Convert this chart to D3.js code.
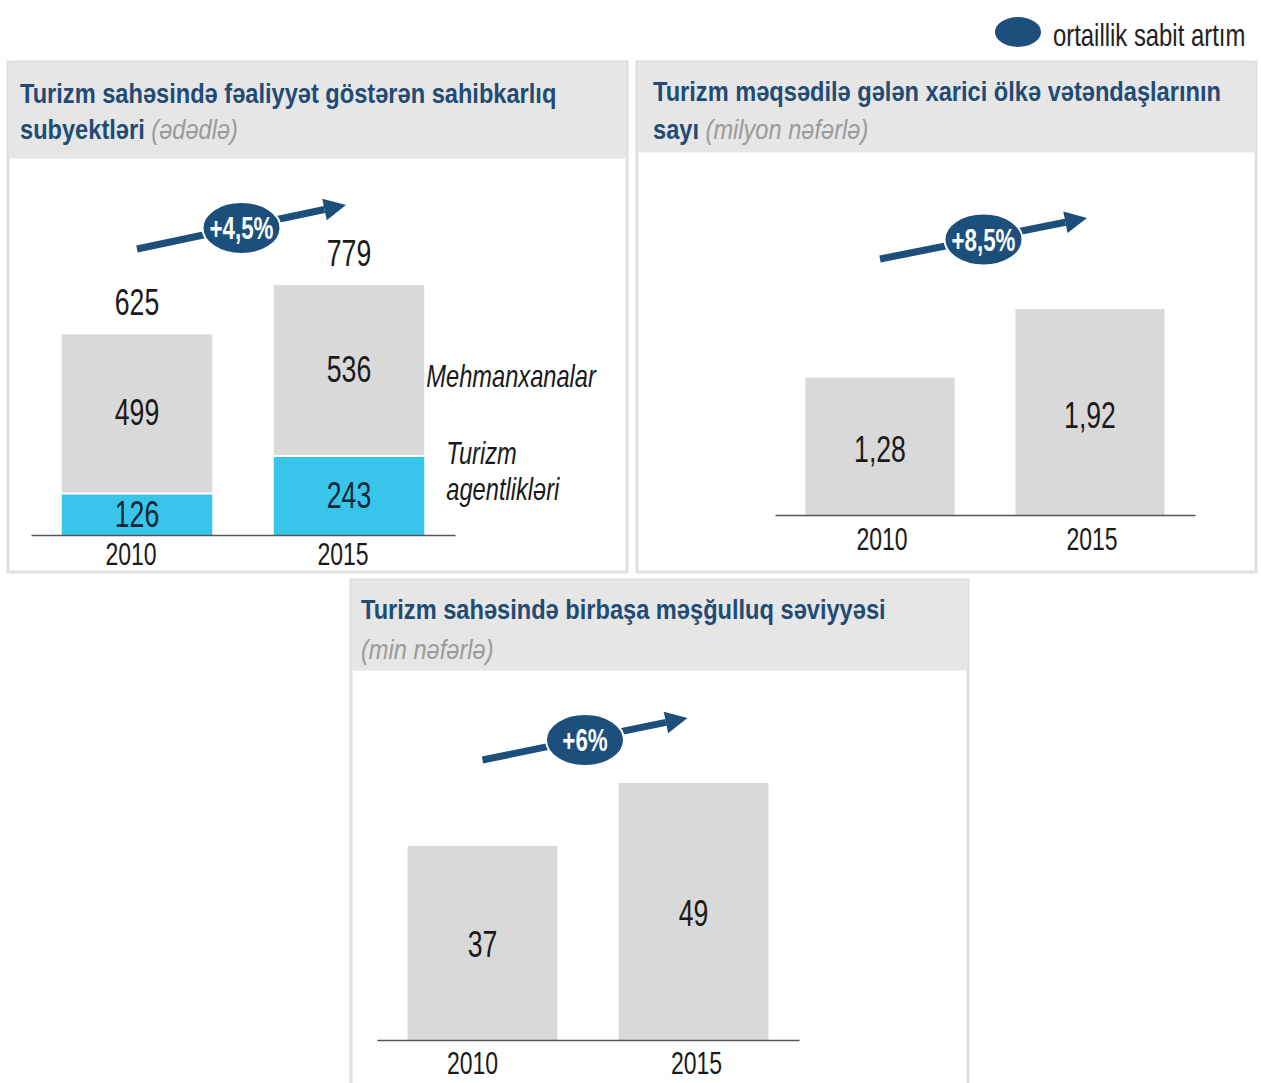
<!DOCTYPE html>
<html>
<head>
<meta charset="utf-8">
<script src="https://cdn.jsdelivr.net/npm/d3@7"></script>
<style>
  html, body { margin: 0; padding: 0; background: #ffffff; }
  svg { display: block; }
</style>
</head>
<body>
<svg id="chart" width="1261" height="1083"></svg>
<script>
// ---------------- DATA ----------------
const years = ["2010", "2015"];
const agencies = [126, 243];          // Turizm agentlikləri
const hotels = [499, 536];            // Mehmanxanalar
const totals = [625, 779];
const visitors = [1.28, 1.92];        // milyon nəfər
const employment = [37, 49];          // min nəfər
const growthLabels = ["+4,5%", "+8,5%", "+6%"];
const legendLabel = "ortaillik sabit artım";
const seriesLabels = ["Mehmanxanalar", "Turizm", "agentlikləri"];
const titles = [
  ["Turizm sahəsində fəaliyyət göstərən sahibkarlıq", "subyektləri", "(ədədlə)"],
  ["Turizm məqsədilə gələn xarici ölkə vətəndaşlarının", "sayı", "(milyon nəfərlə)"],
  ["Turizm sahəsində birbaşa məşğulluq səviyyəsi", "", "(min nəfərlə)"]
];

// ---------------- STYLE ----------------
const FONT = "'Liberation Sans', Arial, sans-serif";
const C = {
  navy: "#1c4f7c", title: "#1f4b74", sub: "#9a9a9a", bar: "#d9d9d9", cyan: "#38c5e9",
  header: "#e6e6e6", border: "#e0e0e0", axis: "#555555", text: "#1a1a1a", onCyan: "#13263a"
};
const commaFmt = d3.formatLocale({decimal: ",", thousands: " ", grouping: [3], currency: ["", ""]});
const f2 = commaFmt.format(".2f");
const f0 = commaFmt.format("d");

const svg = d3.select("#chart");

function txt(g, x, y, s, o = {}) {
  return g.append("text")
    .attr("transform", `translate(${x},${y}) scale(${o.sx ?? 0.72},1)`)
    .attr("text-anchor", o.anchor || "middle")
    .attr("font-family", FONT)
    .attr("font-size", o.size || 37)
    .attr("font-weight", o.weight || "normal")
    .attr("font-style", o.style || "normal")
    .attr("fill", o.fill || C.text)
    .text(s);
}

const TSX = 0.875, TSIZE = 27;

function panel(p) {
  const g = svg.append("g");
  g.append("rect").attr("x", p.x).attr("y", p.y).attr("width", p.w).attr("height", p.h)
    .attr("fill", "#fff").attr("stroke", C.border).attr("stroke-width", 3);
  g.append("rect").attr("x", p.x + 1.5).attr("y", p.y + 1.5).attr("width", p.w - 3).attr("height", p.hh)
    .attr("fill", C.header);
  const t = p.title;
  txt(g, p.x + p.tx, p.y + p.b1, t[0], {anchor: "start", size: TSIZE, weight: "bold", fill: C.title, sx: TSX});
  const l2 = g.append("text")
    .attr("transform", `translate(${p.x + p.tx},${p.y + p.b2}) scale(${TSX},1)`)
    .attr("font-family", FONT).attr("font-size", TSIZE);
  if (t[1]) l2.append("tspan").attr("font-weight", "bold").attr("fill", C.title).text(t[1] + " ");
  l2.append("tspan").attr("font-style", "italic").attr("fill", C.sub).text(t[2]);
  return g;
}

function growthArrow(g, x1, y1, x2, y2, label) {
  const ang = Math.atan2(y2 - y1, x2 - x1);
  const head = 22, hw = 11;
  const bx = x2 - head * Math.cos(ang), by = y2 - head * Math.sin(ang);
  g.append("line").attr("x1", x1).attr("y1", y1).attr("x2", bx).attr("y2", by)
    .attr("stroke", C.navy).attr("stroke-width", 7);
  const px = -Math.sin(ang), py = Math.cos(ang);
  g.append("path")
    .attr("d", `M${x2},${y2} L${bx + px * hw},${by + py * hw} L${bx - px * hw},${by - py * hw} Z`)
    .attr("fill", C.navy);
  const cx = (x1 + x2) / 2, cy = (y1 + y2) / 2 + 1;
  g.append("ellipse").attr("cx", cx).attr("cy", cy).attr("rx", 39).attr("ry", 26)
    .attr("fill", C.navy).attr("stroke", "#fff").attr("stroke-width", 2);
  txt(g, cx, cy + 11, label, {size: 31, weight: "bold", fill: "#fff", sx: 0.72});
}

function xScale(r) {
  return d3.scaleBand().domain(years).range(r).paddingInner(0.29).paddingOuter(0.145);
}

function axisLine(g, x, base) {
  const ax = g.append("g").attr("transform", `translate(0,${base})`)
    .call(d3.axisBottom(x).tickSize(0).tickPadding(0).tickFormat(""));
  ax.select(".domain").attr("stroke", C.axis).attr("stroke-width", 1.5);
  return ax;
}

// ---------------- LEGEND ----------------
svg.append("ellipse").attr("cx", 1018).attr("cy", 32).attr("rx", 23).attr("ry", 15).attr("fill", C.navy);
txt(svg, 1053, 46, legendLabel, {anchor: "start", size: 31, sx: 0.77, fill: "#222"});

// ---------------- PANEL 1: stacked ----------------
{
  const g = panel({x: 8, y: 62, w: 619, h: 510, hh: 95, tx: 12, b1: 41, b2: 77, title: titles[0]});
  const base = 535;
  const x = xScale([31, 455]);
  const y = d3.scaleLinear().domain([0, d3.max(totals)]).range([base, 285]);
  const stack = years.map((yr, i) => ({yr, a: agencies[i], h: hotels[i], t: totals[i]}));

  g.selectAll(".cy").data(stack).join("rect")
    .attr("x", d => x(d.yr)).attr("width", x.bandwidth())
    .attr("y", d => y(d.a)).attr("height", d => y(0) - y(d.a)).attr("fill", C.cyan);
  g.selectAll(".gr").data(stack).join("rect")
    .attr("x", d => x(d.yr)).attr("width", x.bandwidth())
    .attr("y", d => y(d.a + d.h)).attr("height", d => y(d.a) - y(d.a + d.h) - 2).attr("fill", C.bar);

  stack.forEach(d => {
    const cx = x(d.yr) + x.bandwidth() / 2;
    txt(g, cx, (y(d.a) + y(0)) / 2 + 12, f0(d.a), {fill: C.onCyan});
    txt(g, cx, (y(d.a + d.h) + y(d.a)) / 2 + 11, f0(d.h));
    txt(g, cx, y(d.t) - 19, f0(d.t));
  });
  axisLine(g, x, base);
  years.forEach(yr => txt(g, x(yr) + x.bandwidth() / 2 - 6, base + 30, yr, {size: 32}));

  const x2r = x("2015") + x.bandwidth();
  txt(g, x2r + 2, 387, seriesLabels[0], {anchor: "start", size: 32, style: "italic", sx: 0.74});
  txt(g, x2r + 22, 464, seriesLabels[1], {anchor: "start", size: 32, style: "italic", sx: 0.74});
  txt(g, x2r + 22, 500, seriesLabels[2], {anchor: "start", size: 32, style: "italic", sx: 0.74});

  growthArrow(g, x("2010") + x.bandwidth() / 2, 249, x("2015") + x.bandwidth() / 2 - 3, 205, growthLabels[0]);
}

// ---------------- PANEL 2 ----------------
{
  const g = panel({x: 637, y: 62, w: 619, h: 510, hh: 89, tx: 16, b1: 39, b2: 77, title: titles[1]});
  const base = 515;
  const x = xScale([775, 1195]);
  const y = d3.scaleLinear().domain([0, d3.max(visitors)]).range([base, 309]);
  g.selectAll(".b").data(visitors).join("rect")
    .attr("x", (d, i) => x(years[i])).attr("width", x.bandwidth())
    .attr("y", d => y(d)).attr("height", d => y(0) - y(d)).attr("fill", C.bar);
  visitors.forEach((v, i) => txt(g, x(years[i]) + x.bandwidth() / 2, (y(v) + y(0)) / 2 + 16, f2(v)));
  axisLine(g, x, base);
  years.forEach(yr => txt(g, x(yr) + x.bandwidth() / 2 + 2, base + 35, yr, {size: 32}));
  growthArrow(g, x("2010") + x.bandwidth() / 2, 259, x("2015") + x.bandwidth() / 2 - 3, 218, growthLabels[1]);
}

// ---------------- PANEL 3 ----------------
{
  const g = panel({x: 351, y: 580, w: 617, h: 520, hh: 89, tx: 10, b1: 39, b2: 79, title: titles[2]});
  const base = 1040;
  const x = xScale([377, 799]);
  const y = d3.scaleLinear().domain([0, d3.max(employment)]).range([base, 783]);
  g.selectAll(".b").data(employment).join("rect")
    .attr("x", (d, i) => x(years[i])).attr("width", x.bandwidth())
    .attr("y", d => y(d)).attr("height", d => y(0) - y(d)).attr("fill", C.bar);
  employment.forEach((v, i) => txt(g, x(years[i]) + x.bandwidth() / 2, (y(v) + y(0)) / 2 + 14, f0(v)));
  axisLine(g, x, base);
  years.forEach(yr => txt(g, x(yr) + x.bandwidth() / 2 - 10 + (yr === "2015" ? 13 : 0), base + 34, yr, {size: 32}));
  growthArrow(g, x("2010") + x.bandwidth() / 2, 760, x("2015") + x.bandwidth() / 2 - 6, 718, growthLabels[2]);
}
</script>
</body>
</html>
